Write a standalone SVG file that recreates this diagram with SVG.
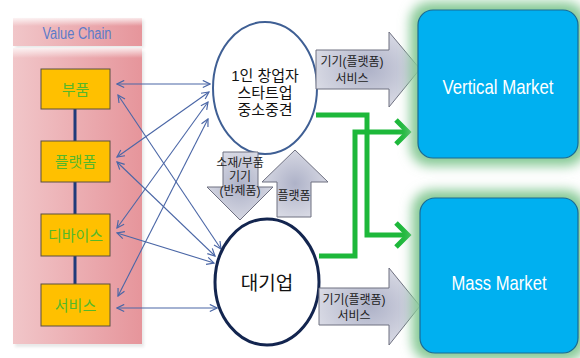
<svg xmlns="http://www.w3.org/2000/svg" width="580" height="358" viewBox="0 0 580 358">
  <defs>
    <linearGradient id="panelFill" x1="0" y1="0" x2="1" y2="0">
      <stop offset="0" stop-color="#f1c6c9"/>
      <stop offset="1" stop-color="#e6959b"/>
    </linearGradient>
    <linearGradient id="bevelTop" x1="0" y1="0" x2="0" y2="1">
      <stop offset="0" stop-color="#ffffff" stop-opacity="0.8"/>
      <stop offset="1" stop-color="#ffffff" stop-opacity="0"/>
    </linearGradient>
    <radialGradient id="blockFill" cx="0.5" cy="0.5" r="0.7">
      <stop offset="0" stop-color="#aeb2c8"/>
      <stop offset="0.6" stop-color="#cfd1de"/>
      <stop offset="1" stop-color="#e6e7ee"/>
    </radialGradient>
    <filter id="glow" x="-25%" y="-25%" width="150%" height="150%">
      <feGaussianBlur stdDeviation="6"/>
    </filter>
    <filter id="soft" x="-10%" y="-10%" width="120%" height="120%">
      <feGaussianBlur stdDeviation="1.5"/>
    </filter>
    <marker id="tip" viewBox="0 0 10 10" refX="9" refY="5" markerWidth="9" markerHeight="9" orient="auto-start-reverse" markerUnits="userSpaceOnUse">
      <path d="M1,1 L9,5 L1,9" fill="none" stroke="#4a66a6" stroke-width="1.3"/>
    </marker>
    <style>
      .kr { font-family: "Liberation Sans", "Noto Sans CJK KR", sans-serif; }
      .chain { fill: #ffc000; stroke: #5a5040; stroke-width: 1; }
      .chainTxt { font-size: 15px; fill: #55b82a; text-anchor: middle; dominant-baseline: central; }
      .link { stroke: #4a66a6; stroke-width: 1.1; fill: none; marker-start: url(#tip); marker-end: url(#tip); }
      .block { fill: url(#blockFill); stroke: #6e7080; stroke-width: 1; }
      .blockTxt { font-size: 12px; fill: #222; text-anchor: middle; dominant-baseline: central; }
      .green { stroke: #1db83a; stroke-width: 5; fill: none; stroke-linejoin: miter; }
      .market { fill: #00b0f0; stroke: #1a6a94; stroke-width: 1.2; }
      .marketTxt { font-family: "Liberation Sans", sans-serif; font-size: 21px; fill: #ffffff; text-anchor: middle; dominant-baseline: central; }
    </style>
  </defs>

  <rect width="580" height="358" fill="#ffffff"/>

  <!-- value chain panel -->
  <g id="value-chain">
    <rect x="15" y="20" width="129" height="28" fill="#d9d9d9" opacity="0.6" filter="url(#soft)"/>
    <rect x="13" y="18" width="129" height="28" fill="url(#panelFill)"/>
    <rect x="13" y="18" width="129" height="8" fill="url(#bevelTop)"/>
    <text x="77" y="33" class="kr" font-size="16" fill="#5b7bc9" text-anchor="middle" dominant-baseline="central" textLength="69" lengthAdjust="spacingAndGlyphs">Value Chain</text>
    <rect x="15" y="51" width="129" height="296" fill="#d9d9d9" opacity="0.6" filter="url(#soft)"/>
    <rect x="13" y="48" width="129" height="296" fill="url(#panelFill)"/>
    <rect x="13" y="48" width="129" height="10" fill="url(#bevelTop)"/>
  </g>

  <!-- chain spine -->
  <g id="chain-links">
    <line x1="75" y1="109" x2="75" y2="284" stroke="#1f3a7a" stroke-width="3"/>
  </g>

  <g id="part">
    <rect class="chain" x="41" y="69" width="69" height="40"/>
    <text class="kr chainTxt" x="75.5" y="89">부품</text>
  </g>
  <g id="platform">
    <rect class="chain" x="41" y="141" width="69" height="41"/>
    <text class="kr chainTxt" x="75.5" y="161.5">플랫폼</text>
  </g>
  <g id="device">
    <rect class="chain" x="41" y="214" width="69" height="42"/>
    <text class="kr chainTxt" x="75.5" y="235">디바이스</text>
  </g>
  <g id="service">
    <rect class="chain" x="41" y="284" width="69" height="42"/>
    <text class="kr chainTxt" x="75.5" y="305">서비스</text>
  </g>

  <!-- two-way links between the chain and the company types -->
  <g id="connectors">
    <line class="link" x1="117" y1="84" x2="210" y2="84"/>
    <line class="link" x1="118" y1="95" x2="221" y2="249"/>
    <line class="link" x1="117" y1="157" x2="209" y2="92"/>
    <line class="link" x1="117" y1="162" x2="215" y2="256"/>
    <line class="link" x1="117" y1="228" x2="208" y2="102"/>
    <line class="link" x1="117" y1="233" x2="214" y2="263"/>
    <line class="link" x1="118" y1="296" x2="208" y2="119"/>
    <line class="link" x1="117" y1="308" x2="217" y2="308"/>

    <!-- green routes to the markets -->
    <polyline class="green" points="316,115 367,115 367,235 408,235"/>
    <polyline class="green" points="396,223 408,235 396,247"/>
    <polyline class="green" points="319,256 355,256 355,132 408,132"/>
    <polyline class="green" points="396,120 408,132 396,144"/>
  </g>

  <!-- small firms -->
  <g id="startup">
    <ellipse cx="265" cy="88" rx="52" ry="66" fill="#ffffff" stroke="#3f5f94" stroke-width="2"/>
    <text class="kr" x="265" y="75" font-size="15" fill="#111" text-anchor="middle" dominant-baseline="central">1인 창업자</text>
    <text class="kr" x="265" y="92" font-size="15" fill="#111" text-anchor="middle" dominant-baseline="central">스타트업</text>
    <text class="kr" x="265" y="109" font-size="15" fill="#111" text-anchor="middle" dominant-baseline="central">중소중견</text>
  </g>

  <!-- large firm -->
  <g id="enterprise">
    <ellipse cx="267" cy="282" rx="52" ry="63" fill="#ffffff" stroke="#13254f" stroke-width="3"/>
    <text class="kr" x="267" y="283" font-size="19" fill="#111" text-anchor="middle" dominant-baseline="central">대기업</text>
  </g>

  <!-- exchange between firms -->
  <g id="flow-down">
    <path class="block" d="M223,152 L258,152 L258,187 L273,187 L240,220 L207,187 L223,187 Z"/>
    <text class="kr blockTxt" x="240" y="163">소재/부품</text>
    <text class="kr blockTxt" x="240" y="177">기기</text>
    <text class="kr blockTxt" x="240" y="191">(반제품)</text>
  </g>
  <g id="flow-up">
    <path class="block" d="M295,150 L328,182 L311,182 L311,217 L277,217 L277,182 L262,182 Z"/>
    <text class="kr blockTxt" x="294" y="196">플랫폼</text>
  </g>

  <!-- deliveries to markets -->
  <g id="supply-vertical">
    <path class="block" d="M316,50 L389,50 L389,32 L420,69 L389,107 L389,89 L316,89 Z"/>
    <text class="kr blockTxt" x="352" y="62">기기(플랫폼)</text>
    <text class="kr blockTxt" x="352" y="79">서비스</text>
  </g>
  <g id="supply-mass">
    <path class="block" d="M319,288 L389,288 L389,268 L420,306 L389,345 L389,325 L319,325 Z"/>
    <text class="kr blockTxt" x="354" y="300">기기(플랫폼)</text>
    <text class="kr blockTxt" x="354" y="316">서비스</text>
  </g>

  <!-- markets -->
  <g id="vertical-market">
    <rect x="410" y="2" width="176" height="164" rx="20" fill="#86c995" filter="url(#glow)"/>
    <rect class="market" x="418" y="10" width="160" height="148" rx="15"/>
    <text class="marketTxt" x="498" y="86" textLength="111" lengthAdjust="spacingAndGlyphs">Vertical Market</text>
  </g>
  <g id="mass-market">
    <rect x="412" y="190" width="174" height="171" rx="20" fill="#86c995" filter="url(#glow)"/>
    <rect class="market" x="420" y="198" width="158" height="155" rx="15"/>
    <text class="marketTxt" x="499" y="282" textLength="95" lengthAdjust="spacingAndGlyphs">Mass Market</text>
  </g>
</svg>
